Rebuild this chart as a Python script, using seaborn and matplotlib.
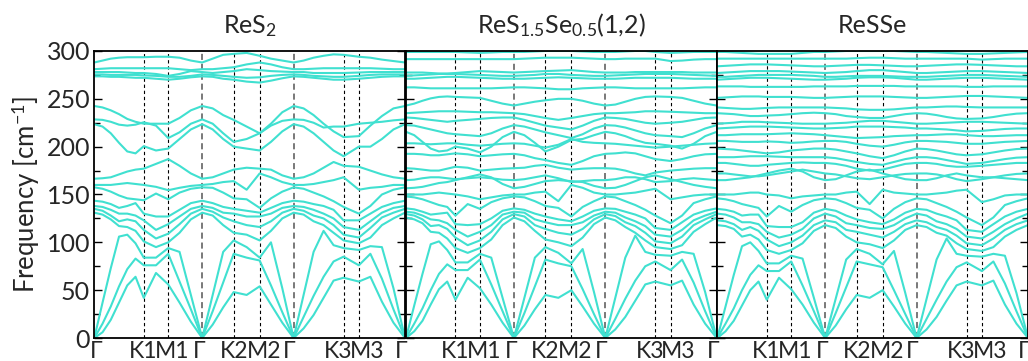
import matplotlib
matplotlib.use("Agg")
import matplotlib.pyplot as plt
import pandas as pd
import seaborn as sns
from matplotlib.ticker import MultipleLocator

# ---------------- data ----------------
# k-path sample positions (path length units); high-symmetry points
K_POS = [0, 8.25, 16.5, 24.75, 33, 41.25, 49.5, 61.75, 74, 85.33, 96.67, 108,
         118.5, 129, 139.5, 152.5, 165.5, 176.83, 188.17, 199.5, 209.5, 219.5,
         229.5, 239.5, 249.5, 264.8, 276.35, 287.9, 299.45, 311]
HS_POS = [0, 49.5, 74, 108, 139.5, 165.5, 199.5, 249.5, 264.8, 311]
HS_LABELS = ["Γ", "K1", "M1", "Γ", "K2", "M2", "Γ", "K3", "M3", "Γ"]
TITLES = ["ReS$_{2}$", "ReS$_{1.5}$Se$_{0.5}$(1,2)", "ReSSe"]

# ---- ReS2: low-frequency branches, frequencies (cm-1) listed per k-point ----
RES2_LOW_BY_K = [
    [0, 0, 0, 131, 135, 138, 143.5, 157.5, 160, 166.5],
    [6, 15, 37, 129, 133, 137, 142.5, 156, 160, 167],
    [19, 33, 73, 124, 128, 134, 140, 153, 160, 168],
    [37, 54, 106, 117, 122, 130, 136, 149, 161, 171],
    [55, 72, 108, 116, 124, 130, 138, 146, 162, 174],
    [64, 83, 99, 112, 122, 128, 141, 145, 161, 176],
    [42, 76, 84, 101, 113, 123, 130, 144, 160, 177],
    [68, 76, 84, 95, 104, 113, 127, 151, 158, 182],
    [56, 88, 94, 100, 109, 119, 127, 145, 154.5, 187],
    [37, 59, 90, 110, 119, 127, 134, 152, 157, 180],
    [17, 30, 45, 124, 130, 135, 141, 156, 159, 172],
    [0, 0, 0, 131, 135, 138, 143.5, 157.5, 160, 166.5],
    [14, 28, 45, 128, 132, 136, 141, 157, 161, 168],
    [32, 58, 90, 118, 126, 131, 137, 152, 163, 172],
    [48, 88, 102, 110, 122, 130, 135, 146, 164, 176],
    [45, 84, 95, 108, 118, 127, 133, 145, 155, 178],
    [54, 81, 84, 102, 116, 127, 131, 136, 172, 177],
    [35, 55, 100, 112, 122, 130, 136, 146, 168, 176],
    [16, 27, 52, 125, 131, 136, 141, 153, 163, 170],
    [0, 0, 0, 131, 135, 138, 143.5, 157.5, 160, 166.5],
    [10, 22, 45, 129, 133, 137, 142.5, 156, 160, 168],
    [24, 44, 90, 122, 128, 134, 140, 152, 161, 172],
    [42, 64, 112, 118, 125, 130, 138, 148, 163, 178],
    [60, 80, 97, 110, 118, 125, 134, 143, 165, 184],
    [63, 85, 94, 102, 108, 116, 123, 137, 168, 180],
    [59, 76, 92, 99, 105, 113, 123, 130, 155, 179],
    [64, 88, 96, 105, 115, 122, 130, 138, 157, 175],
    [38, 62, 95, 118, 126, 131, 137, 150, 158, 171],
    [16, 30, 52, 125, 131, 136, 141, 155, 160, 168],
    [0, 0, 0, 131, 135, 138, 143.5, 157.5, 160, 166.5],
]
# ---- ReS2: high-frequency branches, one list per band ----
RES2_HIGH_BANDS = [
    [223.5, 221, 214, 204, 195, 193, 200.5, 196, 198, 208, 218, 223.5, 218, 208, 200, 198, 196, 205, 216, 223.5, 221, 214, 205, 196, 190, 200, 200, 208, 218, 223.5],
    [228.5, 228, 226, 223, 222, 223, 225.5, 222, 209, 215, 224, 228.5, 224, 214, 205, 208, 214, 222, 227, 228.5, 228, 225, 220, 221, 221, 224, 225, 226, 227.5, 228.5],
    [242.5, 241, 238, 234, 229, 226, 224, 224, 224, 230, 238, 242.5, 240, 233, 228, 221, 214, 224, 236, 242.5, 240, 233, 224, 216, 210, 211, 222, 232, 240, 242.5],
    [273.5, 273.5, 273, 273, 272.5, 272, 272, 271, 270, 271, 272.5, 273.5, 273, 271, 270, 268, 267, 269, 271.5, 273.5, 273, 272, 271, 270, 270, 271, 272, 273, 273.5, 273.5],
    [275.5, 275.5, 275, 275, 275, 275, 274.5, 274, 273, 273, 274, 275.5, 275, 274, 273, 272, 272.5, 274, 275, 275.5, 275, 274, 273.5, 273, 273, 274, 275, 275.5, 275.5, 275.5],
    [278, 278, 278, 278, 277.5, 277, 277, 276, 274, 276, 279, 278, 277, 278, 279, 281, 280, 279, 278.5, 278, 278, 277, 277, 277, 277, 277.5, 278, 278, 278, 278],
    [281, 281.5, 282, 282, 282, 282, 282, 282, 282, 281, 280, 281, 281, 282, 283, 286, 288, 286, 283, 281, 281, 281.5, 282, 282, 282, 282, 282, 281.5, 281, 281],
    [288, 290, 292, 293, 293.5, 293.5, 293.5, 294, 294, 293, 290, 288, 292, 296, 297, 298, 295, 292, 290, 288, 290, 293, 295, 296.5, 296, 294, 293, 291, 289.5, 288],
]

# ---- ReS1.5Se0.5(1,2) ----
RESSE12_LOW_BY_K = [
    [0, 0, 0, 126, 129.5, 132, 135.5, 148, 150, 156.5],
    [7, 15, 34, 124, 128, 131, 134.5, 147, 150, 157],
    [18, 31, 67, 120, 124, 128, 132, 145, 150, 158],
    [35, 50, 98, 111, 117, 124, 129, 142, 151, 160],
    [51, 67, 101, 110, 118, 123, 130, 139, 152, 162],
    [59, 77, 92, 104, 114, 120, 131, 137, 151, 163],
    [40, 71, 79, 94, 105, 113, 119, 128, 150, 165],
    [63, 71, 79, 89, 97, 106, 118, 140, 148, 168],
    [52, 82, 88, 94, 102, 111, 119, 135, 145, 171],
    [35, 56, 84, 103, 111, 118, 125, 142, 147, 168],
    [16, 28, 42, 118, 124, 129, 133, 146, 149, 161],
    [0, 0, 0, 126, 129.5, 132, 135.5, 148, 150, 156.5],
    [13, 26, 42, 122, 127, 131, 134, 147, 150, 158],
    [30, 54, 84, 112, 118, 124, 130, 143, 152, 161],
    [45, 82, 95, 103, 114, 121, 127, 138, 153, 164],
    [42, 78, 89, 100, 110, 118, 124, 136, 143, 165],
    [50, 75, 78, 96, 108, 118, 122, 127, 160, 164],
    [33, 51, 93, 105, 114, 121, 127, 137, 157, 163],
    [15, 25, 48, 119, 124, 128, 133, 143, 152, 159],
    [0, 0, 0, 126, 129.5, 132, 135.5, 148, 150, 156.5],
    [9, 20, 42, 123, 127.5, 131, 135, 147, 150, 157],
    [22, 41, 84, 116, 121, 126, 132, 143, 151, 160],
    [39, 60, 107, 110, 117, 122, 129, 139, 152, 164],
    [56, 75, 90, 102, 110, 117, 125, 134, 154, 168],
    [59, 80, 87, 95, 101, 108, 115, 128, 156, 170],
    [55, 71, 86, 93, 99, 106, 113, 120, 145, 166],
    [60, 82, 90, 97, 106, 113, 121, 128, 147, 163],
    [35, 58, 88, 111, 118, 123, 129, 141, 149, 160],
    [15, 28, 48, 119, 124, 128, 133, 145, 150, 158],
    [0, 0, 0, 126, 129.5, 132, 135.5, 148, 150, 156.5],
]
RESSE12_HIGH_BANDS = [
    [165, 165.5, 167, 168, 168, 167, 166, 167, 168, 167, 165.5, 165, 166, 168, 170, 167, 163, 164, 165, 165, 166, 168, 168, 166, 163, 164, 166, 167, 166, 165],
    [177.5, 177, 176, 175, 175, 177, 179, 178, 175, 176, 177, 177.5, 178, 180, 181, 178, 176, 177, 177.5, 177.5, 177, 175, 172, 170, 173, 175, 176, 177, 177.5, 177.5],
    [192.5, 192.5, 192, 191, 191, 192, 193, 192, 190, 191, 192, 192.5, 191, 188, 186, 183, 181, 185, 190, 192.5, 193, 194, 193, 190, 187, 185, 187, 190, 192, 192.5],
    [203.5, 203.5, 203, 202.5, 203, 203.5, 203.5, 202, 201, 202, 203, 203.5, 203, 201, 199, 202, 208, 205, 204, 203.5, 203, 202, 201, 200, 199, 200, 201, 202, 203, 203.5],
    [215.5, 212, 205, 198, 195, 196, 200, 198, 194, 200, 210, 215.5, 212, 204, 195, 200, 207, 208, 212, 215.5, 214, 211, 207, 204, 203, 201, 198, 203, 211, 215.5],
    [222.5, 222, 220, 218, 216, 214, 213, 212, 211, 214, 219, 222.5, 221, 218, 215, 212, 209, 213, 219, 222.5, 222, 220, 217, 214, 212, 211, 210, 214, 219, 222.5],
    [230.5, 230, 229, 228, 227, 226, 227, 228, 229, 230, 230.5, 230.5, 228, 225, 222, 220, 218, 222, 227, 230.5, 230, 229, 227, 225, 224, 225, 226, 228, 230, 230.5],
    [235, 235.5, 236, 236.5, 237, 237, 237, 236.5, 236, 236, 235.5, 235, 234, 232, 230, 228, 230, 232, 234, 235, 235, 235.5, 236, 237, 237, 236.5, 236, 235.5, 235, 235],
    [243, 245, 248, 250.5, 252, 252.5, 252, 251.5, 251, 248, 245, 243, 245, 247, 248.5, 250, 250, 248, 245, 243, 244, 247, 250, 252, 252.5, 252, 251, 248, 245, 243],
    [262, 262, 261.5, 261, 261, 261, 261, 261, 261, 261, 261.5, 262, 262, 261.5, 261, 260, 260, 261, 261.5, 262, 262, 261.5, 261, 261, 261, 261, 261, 261.5, 262, 262],
    [271, 271, 271.5, 272, 272.5, 273, 273, 272.5, 272, 271.5, 271, 271, 271, 271.5, 272, 272.5, 272, 271.5, 271, 271, 271, 271.5, 272, 272, 272, 272, 271.5, 271, 271, 271],
    [274, 274.5, 275, 275.5, 276, 276, 276, 275.5, 275, 274.5, 274, 274, 274.5, 275, 276, 276, 275, 274.5, 274, 274, 274.5, 275, 275.5, 276, 276, 276, 275.5, 275, 274.5, 274],
    [277.5, 277.5, 277.5, 277, 276.5, 276.5, 277, 278, 279, 278.5, 278, 277.5, 278, 278.5, 279, 279.5, 280, 279, 278, 277.5, 277.5, 277.5, 278, 278, 278, 278, 278, 277.5, 277.5, 277.5],
    [291.5, 291.5, 291.5, 291.5, 291.5, 291.5, 291.5, 291.5, 291.5, 291.5, 291.5, 291.5, 292, 292.5, 293, 293, 293, 292.5, 292, 291.5, 291.5, 292, 292, 292, 292, 289.5, 290, 291, 291.5, 291.5],
    [299, 299, 299, 299, 299, 299, 299, 298.5, 298, 298.5, 299, 299, 299, 299.5, 300, 300, 300, 299.5, 299, 299, 299, 299.5, 300, 300, 299, 298, 298.5, 299, 299, 299],
]

# ---- ReSSe ----
RESSE_LOW_BY_K = [
    [0, 0, 0, 118, 123, 130, 135, 146, 150],
    [7, 15, 33, 117, 122, 129, 134, 145, 150],
    [18, 31, 66, 114, 119, 126, 132, 143, 150],
    [34, 50, 96, 106, 113, 121, 128, 140, 151],
    [50, 66, 100, 108, 116, 121, 129, 138, 152],
    [59, 76, 91, 103, 112, 119, 129, 136, 152],
    [40, 70, 78, 92, 103, 111, 117, 127, 150],
    [63, 70, 78, 88, 96, 105, 116, 138, 149],
    [51, 80, 86, 92, 100, 108, 116, 132, 146],
    [35, 55, 83, 99, 107, 114, 121, 139, 148],
    [16, 28, 42, 112, 118, 125, 131, 144, 149],
    [0, 0, 0, 118, 123, 130, 135, 146, 150],
    [13, 26, 41, 115, 121, 127, 133, 145, 150],
    [30, 53, 82, 106, 113, 120, 128, 141, 152],
    [45, 80, 93, 100, 111, 118, 124, 136, 153],
    [42, 77, 88, 98, 108, 115, 121, 134, 140],
    [50, 74, 77, 94, 105, 114, 119, 125, 155],
    [33, 50, 91, 102, 111, 118, 124, 135, 152],
    [15, 25, 47, 113, 119, 125, 131, 142, 151],
    [0, 0, 0, 118, 123, 130, 135, 146, 150],
    [9, 20, 41, 116, 121, 128, 134, 145, 150],
    [22, 40, 82, 110, 116, 122, 130, 141, 151],
    [39, 59, 104, 107, 113, 119, 127, 137, 152],
    [55, 74, 88, 99, 107, 114, 123, 132, 154],
    [59, 79, 86, 93, 99, 106, 113, 126, 155],
    [55, 70, 85, 91, 97, 104, 111, 118, 142],
    [60, 80, 88, 95, 104, 111, 119, 126, 145],
    [35, 57, 86, 106, 113, 119, 127, 139, 149],
    [15, 28, 47, 113, 119, 125, 132, 143, 150],
    [0, 0, 0, 118, 123, 130, 135, 146, 150],
]
RESSE_HIGH_BANDS = [
    [165, 165, 166, 167, 168, 170, 172, 175, 177, 174, 168, 165, 166, 170, 174, 176, 172, 169, 166, 165, 165, 167, 170, 172, 170, 168, 168, 167, 166, 165],
    [172, 172, 171, 170, 169, 169, 170, 172, 174, 176, 174, 172, 171, 169, 167, 166, 168, 170, 171.5, 172, 172, 171, 169, 166, 164, 166, 168, 170, 171.5, 172],
    [183, 183, 182, 181, 180, 180, 181, 182, 183, 183.5, 183, 183, 182, 180, 177, 175, 176, 179, 182, 183, 183, 182, 180, 179, 179, 180, 181, 182, 183, 183],
    [189, 189, 189, 189.5, 190, 190, 190, 189.5, 189, 189, 189, 189, 188, 186, 184, 182, 181, 184, 187, 189, 189, 188, 186, 184, 182, 183, 185, 187, 188.5, 189],
    [198, 197.5, 197, 196, 195, 194, 193, 194, 196, 197, 198, 198, 197, 195, 193, 190, 188, 191, 195, 198, 197.5, 196, 194, 192, 191, 192, 194, 196, 197.5, 198],
    [206, 206, 205.5, 205, 205, 205, 205.5, 205, 204, 204.5, 205.5, 206, 206, 205, 203, 201, 200, 202, 204.5, 206, 206, 205.5, 205, 204, 203, 203, 204, 205, 205.5, 206],
    [212, 212, 212.5, 213, 213, 213, 213, 213.5, 214, 213.5, 213, 212, 211, 210, 209, 209.5, 210, 211, 211.5, 212, 212, 212.5, 213, 213, 212, 211, 211, 211.5, 212, 212],
    [219, 219.5, 220, 220.5, 221, 221, 221, 220.5, 220, 219.5, 219, 219, 219.5, 220, 221, 221, 221, 220.5, 220, 219, 219, 218.5, 218, 217, 216, 216.5, 217.5, 218.5, 219, 219],
    [224, 224.5, 225, 226, 226, 226, 225.5, 225, 224.5, 224, 224, 224, 224.5, 225, 226, 227, 227, 226, 225, 224, 224, 224.5, 225, 225.5, 226, 226, 225.5, 225, 224.5, 224],
    [235, 234.5, 234, 233, 232, 232, 232.5, 233, 234, 235, 235.5, 235, 234, 232, 231, 230, 230, 232, 234, 235, 234.5, 233, 231, 229.5, 229, 229.5, 231, 233, 234.5, 235],
    [241, 240.5, 240, 239.5, 239.5, 240, 240.5, 241, 241, 241, 241, 241, 240.5, 240, 239, 238.5, 238.5, 239, 240, 241, 241, 241.5, 242, 242, 241.5, 241, 241, 241, 241, 241],
    [251, 251.5, 252, 252.5, 252.5, 252.5, 252, 252, 252, 251.5, 251, 251, 251.5, 252, 252.5, 252.5, 252.5, 252, 251.5, 251, 251, 251.5, 252, 252.5, 253, 253, 252.5, 252, 251.5, 251],
    [263, 263, 263, 263, 262.5, 262.5, 262.5, 262.5, 262.5, 262.5, 263, 263, 263, 263, 263.5, 263.5, 263.5, 263.5, 263, 263, 263, 263, 263, 263, 262.5, 262.5, 263, 263, 263, 263],
    [270, 270.5, 271, 271.5, 272, 272, 272, 271.5, 271, 270.5, 270, 270, 270.5, 271, 272, 272.5, 272.5, 272, 271, 270, 270, 270.5, 271, 271.5, 272, 272, 271.5, 271, 270.5, 270],
    [273, 273, 273.5, 274, 274.5, 275, 275, 275, 275, 274.5, 274, 273, 273, 273.5, 274, 274, 274, 273.5, 273, 273, 273, 273.5, 274, 274.5, 275, 275, 274.5, 274, 273.5, 273],
    [277, 277.5, 278, 278.5, 279, 279, 279, 279, 278.5, 278, 277.5, 277, 277.5, 278, 279, 280, 280, 279, 278, 277, 277, 277.5, 278, 278.5, 279, 279, 278.5, 278, 277.5, 277],
    [284, 284.5, 285, 285.5, 286, 286, 286, 285.5, 285, 284.5, 284, 284, 284.5, 285, 285.5, 285.5, 285, 284.5, 284, 284, 284.5, 285, 285.5, 286, 286, 285.5, 285, 284.5, 284, 284],
    [292, 292, 292, 292, 292, 292, 292, 292, 292, 292, 292, 292, 292, 292, 292.5, 293, 293, 292.5, 292, 292, 292, 292, 292, 292, 292, 291, 291.5, 292, 292, 292],
    [299, 299, 298.5, 298, 297.5, 297, 297, 297, 297, 298, 299, 299, 299.5, 300, 300, 300, 300, 300, 299.5, 299, 299, 298.5, 298, 297.5, 297, 297, 297.5, 298, 298.5, 299],
]

PANELS = [
    (RES2_LOW_BY_K, RES2_HIGH_BANDS),
    (RESSE12_LOW_BY_K, RESSE12_HIGH_BANDS),
    (RESSE_LOW_BY_K, RESSE_HIGH_BANDS),
]


def to_frame(low_by_k, high_bands):
    bands = [list(b) for b in zip(*low_by_k)] + [list(b) for b in high_bands]
    rows = []
    for bi, vals in enumerate(bands):
        for k, f in zip(K_POS, vals):
            rows.append((bi, k, f))
    return pd.DataFrame(rows, columns=["band", "k", "freq"])


# ---------------- style ----------------
sns.set_theme(style="ticks")
FONT = ["Lato", "DejaVu Sans"]
plt.rcParams["font.family"] = FONT
plt.rcParams["mathtext.fontset"] = "custom"
plt.rcParams["mathtext.rm"] = "Lato"
plt.rcParams["mathtext.it"] = "Lato:italic"
plt.rcParams["mathtext.bf"] = "Lato:bold"

LINE_COLOR = "#40E0D0"
# label anchor shifts (path units) so neighbouring labels sit side by side
LABEL_SHIFT = [1.5, -0.5, 4.0, -3.0, 0.2, 4.2, -4.0, -5.5, 8.0, -3.5]

fig = plt.figure(figsize=(10.28, 3.61), dpi=100)
W = 1028.0
H = 361.0
lefts = [94.3, 406.0, 717.3]
width = 310.7
bottom = (H - 338.0) / H
height = (338.0 - 51.0) / H

for i, (low, high) in enumerate(PANELS):
    ax = fig.add_axes([lefts[i] / W, bottom, width / W, height])
    df = to_frame(low, high)
    sns.lineplot(data=df, x="k", y="freq", units="band", estimator=None,
                 color=LINE_COLOR, linewidth=1.5, ax=ax, legend=False)
    ax.set_xlim(0, 311)
    ax.set_ylim(0, 300)
    for j, xp in enumerate(HS_POS[1:-1]):
        if HS_LABELS[j + 1] == "Γ":
            ax.axvline(xp, color="#555555", lw=1.1, ls=(0, (4, 2.5)), zorder=1)
        else:
            ax.axvline(xp, color="black", lw=0.8, ls=(0, (3, 2.5)), zorder=1)
    label_pos = [p + s for p, s in zip(HS_POS, LABEL_SHIFT)]
    labels = list(HS_LABELS)
    if i > 0:
        labels[0] = ""
    ax.set_xticks(label_pos)
    ax.set_xticklabels(labels, fontsize=16.5)
    ax.tick_params(axis="x", length=0, pad=2)
    ax.yaxis.set_major_locator(MultipleLocator(50))
    ax.yaxis.set_minor_locator(MultipleLocator(25))
    ax.tick_params(axis="y", which="both", direction="in", left=True, right=True,
                   width=1.0, color="black")
    ax.tick_params(axis="y", which="major", length=6)
    ax.tick_params(axis="y", which="minor", length=4)
    if i == 0:
        ax.tick_params(axis="y", labelsize=18, pad=3)
        ax.set_ylabel("Frequency [cm$^{-1}$]", fontsize=18.5, labelpad=3)
    else:
        ax.set_yticklabels([])
        ax.set_ylabel("")
    ax.set_xlabel("")
    for sp in ax.spines.values():
        sp.set_linewidth(1.3)
        sp.set_color("black")
    ax.set_title(TITLES[i], fontsize=18, pad=13)

fig.savefig("out.png", dpi=100)
